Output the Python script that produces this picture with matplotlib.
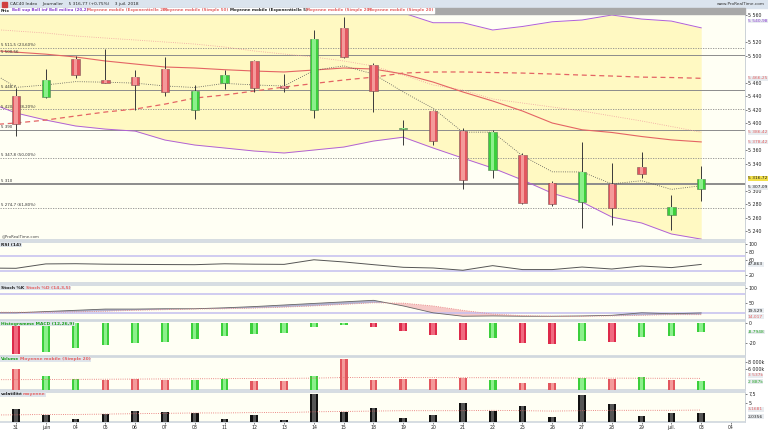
import numpy as np
import matplotlib
matplotlib.use("Agg")
import matplotlib.pyplot as plt
from matplotlib.patches import Rectangle

# ---- data ----
days = ["31", "juin", "04", "05", "06", "07", "08", "11", "12", "13", "14", "15",
        "18", "19", "20", "21", "22", "25", "26", "27", "28", "29", "juil.", "03", "04"]

opens = [5440, 5438.5, 5495, 5463.7, 5468.6, 5480, 5419.3, 5459, 5491.9, 5455.3, 5419.3, 5540.7,
         5485.9, 5390.5, 5417.8, 5388, 5330.4, 5352.6, 5311, 5283.4, 5309.6, 5335.3, 5264, 5301.8]
highs = [5451.9, 5480, 5499, 5509.6, 5478.5, 5497.3, 5456.3, 5478.5, 5493.3, 5472, 5537.8, 5557,
         5488.6, 5404, 5419, 5392.6, 5389.6, 5355.6, 5314, 5371.4, 5340.3, 5357.5, 5293.3, 5336]
lows = [5380.7, 5437, 5466.7, 5459, 5419.3, 5440, 5405.9, 5450, 5446.4, 5446.4, 5408, 5497,
        5416, 5368, 5367, 5302, 5318.5, 5280, 5277, 5245, 5249, 5318, 5241.5, 5284]
closes = [5398.5, 5463.7, 5471, 5458.8, 5456.3, 5446.4, 5447.9, 5471, 5451.7, 5451.7, 5524.4, 5498.2,
          5448, 5393, 5373.3, 5315.5, 5386.7, 5281.5, 5280, 5327, 5274.5, 5324, 5276, 5316.72]

# line series start one session earlier (30 May)
boll_up = [5646.7, 5657.8, 5662.2, 5662.2, 5660.8, 5658, 5665.2, 5666.6, 5662.2, 5654.9, 5648.8, 5635.6,
           5619.4, 5595.5, 5563, 5548.6, 5548.6, 5537.8, 5543, 5550, 5552.6, 5560, 5554, 5551, 5541]
boll_low = [5431.9, 5414.8, 5404.4, 5395.6, 5391, 5388, 5374.8, 5367.4, 5363, 5358.5, 5355.6, 5360,
            5364.4, 5373.3, 5379, 5363, 5348, 5333.3, 5315.6, 5296, 5283, 5260.7, 5251.9, 5235.6, 5228]
boll_mid = [5539.3, 5536.3, 5533.3, 5528.9, 5525.9, 5523, 5520, 5517, 5512.6, 5506.7, 5502.2, 5497.8,
            5491.9, 5484.4, 5471.1, 5456.3, 5448.9, 5435.6, 5429.6, 5423.7, 5417.8, 5410.4, 5403, 5394.8, 5386.4]
ma_solid = [5508.1, 5505, 5502, 5497.8, 5491.9, 5487.4, 5483, 5481.5, 5479, 5477, 5475.6, 5478.5,
            5481.5, 5480, 5472.6, 5460.7, 5446, 5432.6, 5417.8, 5400, 5390, 5386, 5380, 5375, 5372]
ma_dash = [5397, 5400, 5404.4, 5410.4, 5416.3, 5420.7, 5428, 5437, 5441.5, 5447.4, 5453.3, 5458.5,
           5463.7, 5468, 5474, 5475.6, 5475.6, 5474.8, 5474, 5472.6, 5471, 5469.6, 5468, 5467.4, 5466.25]
ema5 = [5480, 5452.8, 5456.4, 5461.3, 5460.5, 5459.1, 5454.9, 5452.6, 5458.7, 5456.4, 5454.8, 5478.0,
        5484.7, 5472.5, 5446.0, 5421.8, 5386.4, 5386.5, 5351.5, 5327.7, 5327.5, 5309.8, 5314.5, 5301.7, 5307.1]

fib_levels = [5511.5, 5420.3, 5347.8, 5274.7]
fib_labels = ["5 511,5 (23,60%)", "5 420,3 (38,20%)", "5 347,8 (50,00%)", "5 274,7 (61,80%)"]
sr_levels = [5500.56, 5448.7, 5390, 5310]
sr_labels = ["5 500,56", "5 448,7", "5 390", "5 310"]

rsi = [38.5, 37.8, 49.2, 49.7, 48.5, 48, 47.5, 47.2, 49.5, 48.5, 48, 59.9, 54.3,
       47.2, 40.4, 38.6, 32.7, 44.7, 34.5, 34.5, 41.1, 36, 43.7, 39.6, 47.86]
stoch_k = [20, 20, 24, 28, 32, 32, 33, 33, 36, 40, 45, 50, 55, 60, 42, 20, 9, 10, 9, 9, 10, 12, 20, 17, 19.53]
stoch_d = [22, 22, 22, 23, 25, 28, 30, 32, 33, 35, 38, 42, 47, 52, 51, 42, 28, 16, 11, 9, 9, 10, 12, 14, 14.02]

macd_hist = [-31.1, -28.5, -25.1, -22.4, -20, -18.4, -16, -12.6, -10.9, -9.3, -3.8, -1.7,
             -3.4, -7.6, -11.6, -17, -15, -19.4, -21, -18.0, -18.6, -14.3, -13.3, -8.79]
macd_up = [0, 1, 1, 1, 1, 1, 1, 1, 1, 1, 1, 1, 0, 0, 0, 0, 1, 0, 0, 1, 0, 1, 1, 1]

volume = [5910, 3900, 3210, 2700, 3090, 2700, 2700, 3000, 2610, 2610, 3990, 8700,
          2790, 3090, 3090, 3300, 2700, 1890, 1890, 3300, 3210, 3690, 2910, 2490]
volume_up = [0, 1, 1, 0, 0, 0, 1, 1, 0, 0, 1, 0, 0, 0, 0, 0, 1, 0, 0, 1, 0, 1, 0, 1]
volume_ma = [2900, 2910, 2950, 3000, 3040, 3080, 3120, 3160, 3200, 3240, 3280, 3350, 3500,
             3510, 3500, 3490, 3470, 3450, 3420, 3400, 3380, 3350, 3320, 3300, 3280]

volat = [3.53, 1.76, 0.88, 2.2, 2.81, 2.73, 2.39, 0.8, 1.94, 0.53, 7.5, 2.65,
         3.79, 0.95, 1.94, 5.12, 3.0, 4.14, 1.22, 7.16, 4.85, 1.49, 2.28, 2.28]
volat_ma = [1.85, 1.9, 2.0, 2.0, 2.1, 2.2, 2.3, 2.4, 2.4, 2.5, 2.5, 2.7, 2.8,
            2.9, 3.0, 3.0, 3.0, 3.1, 3.0, 2.9, 3.0, 3.1, 3.1, 3.1, 3.17]

x = np.arange(len(closes))
xl = np.arange(-1, len(closes))

RED = "#e2575f"
RED_LT = "#f49a9a"
GREEN = "#3ccf3c"
GREEN_LT = "#8cf08c"
PURPLE = "#b060d8"
MA_RED = "#e46464"

W, H = 768, 432
PLOT_R = 745
fig = plt.figure(figsize=(W / 100, H / 100), dpi=100, facecolor="white")


def panel(top, bottom):
    ax = fig.add_axes([0, 1 - bottom / H, PLOT_R / W, (bottom - top) / H])
    ax.set_facecolor("#fffff4")
    ax.set_xlim(-0.537, 24.47)
    ax.yaxis.tick_right()
    ax.tick_params(axis="y", labelsize=3.4, length=1.5, width=0.4, pad=1, colors="#222222")
    ax.tick_params(axis="x", bottom=False, labelbottom=False)
    ax.spines["left"].set_visible(False)
    ax.spines["right"].set_color("#b8c0c8")
    ax.spines["right"].set_linewidth(0.5)
    for s in ["top", "bottom"]:
        ax.spines[s].set_color("#d0d7de")
        ax.spines[s].set_linewidth(1.2)
    return ax


def value_box(ax, y, text, color="#222222", fc="#e8ecf0"):
    ax.text(1.004, y, text, transform=ax.get_yaxis_transform(), fontsize=3.2, color=color,
            va="center", ha="left", clip_on=False,
            bbox=dict(facecolor=fc, edgecolor="none", pad=0.3))


def panel_label(ax, parts):
    for px, txt, col in parts:
        ax.text(px / PLOT_R, 0.985, txt, transform=ax.transAxes, fontsize=3.2, color=col,
                va="top", ha="left", fontweight="bold",
                bbox=dict(facecolor="#dfe5eb", edgecolor="none", pad=0.4))


def grad_bars(ax, xs, tops, bottoms, base, light, width):
    hts = np.array(tops) - np.array(bottoms)
    ax.bar(xs, hts, bottom=bottoms, width=width, color=base, edgecolor="none", zorder=3)
    ax.bar(xs, hts, bottom=bottoms, width=width * 0.45, color=light, edgecolor="none", zorder=3)


# ---- header ----
fig.patches.append(Rectangle((0, 1 - 8 / H), 1, 8 / H, transform=fig.transFigure,
                             color="#dbe4ee", zorder=0))
fig.patches.append(Rectangle((0, 1 - 14 / H), PLOT_R / W, 6 / H, transform=fig.transFigure,
                             color="#a8a8a8", zorder=0))
fig.patches.append(Rectangle((0, 1 - 13 / H), 434 / W, 5 / H, transform=fig.transFigure,
                             color="white", zorder=0))
fig.patches.append(Rectangle((2 / W, 1 - 6.5 / H), 5 / W, 4 / H, transform=fig.transFigure,
                             color="#d04040", zorder=1))
fig.text(10 / W, 1 - 4 / H, "CAC40 Index    Journalier    5 316,77 (+0,75%)    3 juil. 2018",
         fontsize=3.1, va="center", color="#222222")
fig.text(765 / W, 1 - 4 / H, "www.ProRealTime.com", fontsize=3.1, va="center", ha="right",
         color="#333333")

row2 = [(1, "Prix", "#222222"), (12, "Boll sup Boll inf Boll milieu (20,2)", "#8a3fd0"),
        (87, "Moyenne mobile (Exponentielle 20)", MA_RED), (163, "Moyenne mobile (Simple 50)", MA_RED),
        (230, "Moyenne mobile (Exponentielle 5)", "#222222"), (306, "Moyenne mobile (Simple 20)", MA_RED),
        (368, "Moyenne mobile (Simple 20)", MA_RED)]
for px, txt, col in row2:
    fig.text(px / W, 1 - 10.5 / H, txt, fontsize=2.9, va="center", color=col, fontweight="bold")

# ---- main price panel ----
ax = panel(14, 240)
ax.set_ylim(5226.7, 5561.5)
ax.fill_between(xl, boll_low, boll_up, color="#fff9c2", zorder=1, lw=0)
ax.plot(xl, boll_up, color=PURPLE, lw=0.7, zorder=2)
ax.plot(xl, boll_low, color=PURPLE, lw=0.7, zorder=2)
ax.plot(xl, boll_mid, color="#f0a0a0", lw=0.6, ls=":", zorder=2)
ax.plot(xl, ma_solid, color=MA_RED, lw=0.8, zorder=2)
ax.plot(xl, ma_dash, color=MA_RED, lw=0.9, ls=(0, (4, 3)), zorder=2)
ax.plot(xl, ema5, color="#555555", lw=0.6, ls=":", zorder=2)

for lv, lab in zip(fib_levels, fib_labels):
    ax.axhline(lv, color="#8a8a8a", lw=0.6, ls=(0, (1.5, 1.5)), zorder=1.5)
    ax.text(-0.5, lv + 1.2, lab, fontsize=2.9, color="#333333", va="bottom", ha="left")
for lv, lab in zip(sr_levels, sr_labels):
    lw = 1.4 if lab == "5 310" else 0.7
    ax.axhline(lv, color="#8c8c8c", lw=lw, zorder=1.5)
    ax.text(-0.5, lv + 1.2, lab, fontsize=2.9, color="#333333", va="bottom", ha="left")

ax.vlines(x, lows, highs, color="#3a3a3a", lw=0.7, zorder=3)
o = np.array(opens)
c = np.array(closes)
up = c >= o
body_lo = np.minimum(o, c)
body_hi = np.maximum(o, c)
body_hi = np.maximum(body_hi, body_lo + 1.5)
ax.bar(x[up], (body_hi - body_lo)[up], bottom=body_lo[up], width=0.28, color=GREEN,
       edgecolor="#5a7a5a", lw=0.4, zorder=4)
ax.bar(x[~up], (body_hi - body_lo)[~up], bottom=body_lo[~up], width=0.28, color=RED,
       edgecolor="#7a5a5a", lw=0.4, zorder=4)
ax.bar(x[up], (body_hi - body_lo)[up], bottom=body_lo[up], width=0.12, color=GREEN_LT,
       edgecolor="none", zorder=4)
ax.bar(x[~up], (body_hi - body_lo)[~up], bottom=body_lo[~up], width=0.12, color=RED_LT,
       edgecolor="none", zorder=4)

ax.set_yticks([5560, 5520, 5500, 5460, 5440, 5420, 5400, 5360, 5340, 5300, 5280, 5260, 5240])
ax.set_yticklabels(["5 560", "5 520", "5 500", "5 460", "5 440", "5 420", "5 400", "5 360",
                    "5 340", "5 300", "5 280", "5 260", "5 240"])
value_box(ax, 5551, "5 540,98", color="#8a3fd0")
value_box(ax, 5466.25, "5 466,25", color=MA_RED)
value_box(ax, 5386.4, "5 386,42", color=MA_RED)
value_box(ax, 5372, "5 378,42", color=MA_RED)
value_box(ax, 5318, "5 316,72", fc="#f2e04a")
value_box(ax, 5305, "5 307,09")
ax.text(0.002, 0.012, "@ProRealTime.com", transform=ax.transAxes, fontsize=2.8, color="#444444")

# ---- RSI ----
ax = panel(242, 283)
ax.set_ylim(-0.3, 106)
ax.axhline(70, color="#c4bef0", lw=1.1)
ax.axhline(30, color="#c4bef0", lw=1.1)
ax.plot(xl, rsi, color="#555555", lw=0.7)
ax.set_yticks([100, 80, 60, 20])
ax.set_yticklabels(["100", "80", "60", "20"])
value_box(ax, 47.86, "47,863")
panel_label(ax, [(1, "RSI (14)", "#222222")])

# ---- Stochastic ----
ax = panel(285, 320)
ax.set_ylim(-3, 109)
ax.axhline(80, color="#c4bef0", lw=1.1)
ax.axhline(20, color="#c4bef0", lw=1.1)
k = np.array(stoch_k)
d = np.array(stoch_d)
ax.fill_between(xl, k, d, where=k >= d, interpolate=True, color="#9a9ac4", alpha=0.75, lw=0)
ax.fill_between(xl, k, d, where=k < d, interpolate=True, color="#f4bcbc", alpha=0.8, lw=0)
ax.plot(xl, k, color="#666666", lw=0.6)
ax.plot(xl, d, color="#e88080", lw=0.6, ls=":")
ax.set_yticks([100, 50])
ax.set_yticklabels(["100", "50"])
value_box(ax, 27, "19,529")
value_box(ax, 8, "14,017", color=MA_RED)
panel_label(ax, [(1, "Stoch %K", "#222222"), (26, "Stoch %D (14,3,5)", MA_RED)])

# ---- MACD histogram ----
ax = panel(321, 356)
ax.set_ylim(-33, 2.3)
mh = np.array(macd_hist)
mu = np.array(macd_up, dtype=bool)
grad_bars(ax, x[mu], np.zeros(mu.sum()), mh[mu], GREEN, GREEN_LT, 0.26)
grad_bars(ax, x[~mu], np.zeros((~mu).sum()), mh[~mu], "#dd2a4a", "#f06a80", 0.26)
ax.set_yticks([0, -20])
ax.set_yticklabels(["0", "-20"])
value_box(ax, -8.79, "-8,7948", color="#20a020")
panel_label(ax, [(1, "Histogramme MACD (12,26,9)", "#20a020")])

# ---- Volume ----
ax = panel(357, 390)
ax.set_ylim(0, 9300)
v = np.array(volume)
vu = np.array(volume_up, dtype=bool)
grad_bars(ax, x[vu], v[vu], np.zeros(vu.sum()), GREEN, GREEN_LT, 0.26)
grad_bars(ax, x[~vu], v[~vu], np.zeros((~vu).sum()), RED, RED_LT, 0.26)
ax.plot(xl, volume_ma, color=MA_RED, lw=0.6, ls=":", zorder=4)
ax.set_yticks([8000, 6000])
ax.set_yticklabels(["8 000k", "6 000k"])
value_box(ax, 4100, "3 537k", color=MA_RED)
value_box(ax, 2350, "2 887k", color="#20a020")
panel_label(ax, [(1, "Volume", "#20a020"), (20, "Moyenne mobile (Simple 20)", MA_RED)])

# ---- volatility ----
ax = panel(392, 422)
ax.set_ylim(0, 7.96)
grad_bars(ax, x, volat, np.zeros(len(volat)), "#111111", "#555555", 0.26)
ax.plot(xl, volat_ma, color=MA_RED, lw=0.6, ls=":", zorder=4)
ax.set_yticks([7.5, 5])
ax.set_yticklabels(["7,5", "5"])
value_box(ax, 3.35, "3,1681", color=MA_RED)
value_box(ax, 1.4, "2,0356")
panel_label(ax, [(1, "volatilité", "#222222"), (23, "moyenne", MA_RED)])
ax.set_xticks(np.arange(len(days)))
ax.set_xticklabels(days)
ax.tick_params(axis="x", bottom=True, labelbottom=True, labelsize=3.3, length=1.5,
               width=0.4, pad=1, colors="#222222")

fig.savefig("out.png", dpi=100, facecolor=fig.get_facecolor())
